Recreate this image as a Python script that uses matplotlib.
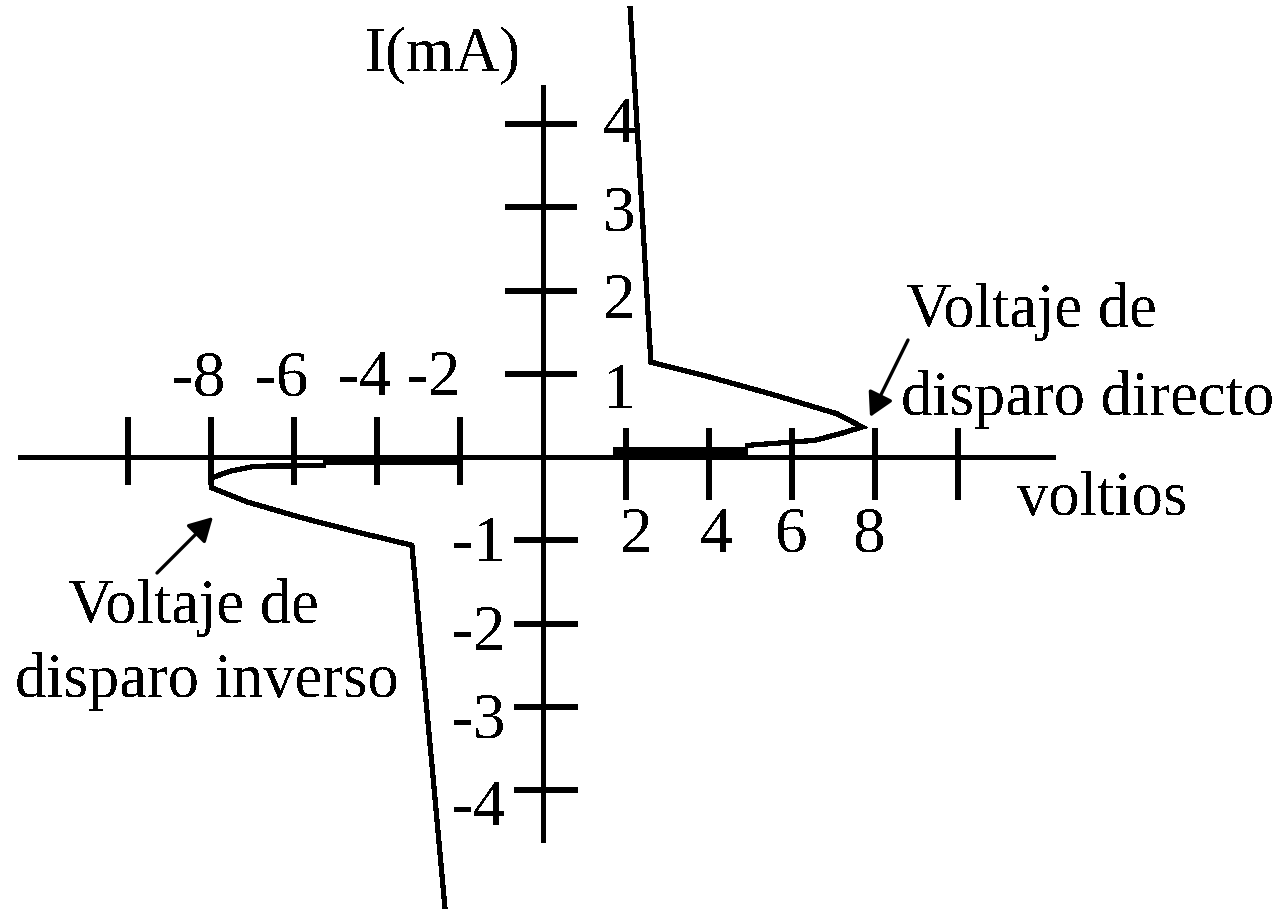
import matplotlib
matplotlib.use('Agg')
import matplotlib.pyplot as plt

# ---------------- data ----------------
x_tick_values = [-10, -8, -6, -4, -2, 2, 4, 6, 8, 10]
y_tick_values = [4, 3, 2, 1, -1, -2, -3, -4]

x_label_values_neg = [-8, -6, -4, -2]
x_label_text_neg = ['-8', '-6', '-4', '-2']
x_label_values_pos = [2, 4, 6, 8]
x_label_text_pos = ['2', '4', '6', '8']
y_label_values = [4, 3, 2, 1, -1, -2, -3, -4]
y_label_text = ['4', '3', '2', '1', '-1', '-2', '-3', '-4']

# forward branch (voltios, mA)
fwd_v = [2.10, 2.60, 4.02, 5.47, 7.08, 7.69, 7.23, 6.55, 4.94]
fwd_i = [5.39, 1.14, 0.96, 0.76, 0.52, 0.36, 0.29, 0.20, 0.14]
fwd_low_v = [1.69, 4.94]
fwd_low_i = [0.072, 0.072]

# reverse branch (voltios, mA)
rev_v = [-2.36, -3.16, -4.41, -5.81, -7.13, -7.98, -7.98, -7.54, -6.94, -5.30]
rev_i = [-5.43, -1.06, -0.91, -0.73, -0.54, -0.37, -0.25, -0.17, -0.11, -0.105]
rev_low_v = [-5.30, -2.00]
rev_low_i = [-0.048, -0.048]

# ---------------- layout ----------------
W, H = 1284, 909
OX, OY = 543.0, 457.0      # pixel position of origin
SX, SY = 41.5, 83.25       # pixels per volt / per mA


def px(x, y):
    """pixel (from top-left) -> data coordinates"""
    return (x - OX) / SX, (OY - y) / SY


def dx(p):
    return p / SX


def dy(p):
    return p / SY


plt.rcParams['text.antialiased'] = False
fig = plt.figure(figsize=(W / 100, H / 100), dpi=100)
fig.patch.set_facecolor('white')
ax = fig.add_axes([0, 0, 1, 1])
ax.set_xlim(-OX / SX, (W - OX) / SX)
ax.set_ylim((OY - H) / SY, OY / SY)
ax.axis('off')

K = 'black'
axis_lw = 3.6
tick_lw = 3.2
curve_lw = 3.0
aa = False

# axes
ax.plot([px(18, 0)[0], px(1055, 0)[0]], [0, 0], color=K, lw=axis_lw,
        solid_capstyle='butt', antialiased=aa)
ax.plot([0, 0], [px(0, 85)[1], px(0, 842)[1]], color=K, lw=axis_lw,
        solid_capstyle='butt', antialiased=aa)

# x ticks
for v in x_tick_values:
    if v < 0:
        top, bot = dy(40), -dy(28)
    else:
        top, bot = dy(29), -dy(43)
    ax.plot([v, v], [bot, top], color=K, lw=tick_lw, solid_capstyle='butt',
            antialiased=aa)
# y ticks
for i in y_tick_values:
    if i > 0:
        l, r = -dx(38), dx(34)
    else:
        l, r = -dx(29), dx(35)
    ax.plot([l, r], [i, i], color=K, lw=tick_lw, solid_capstyle='butt',
            antialiased=aa)

# curves
ax.plot(fwd_v, fwd_i, color=K, lw=curve_lw, antialiased=aa,
        solid_joinstyle='miter')
ax.plot(fwd_low_v, fwd_low_i, color=K, lw=4.6, solid_capstyle='butt',
        antialiased=aa)
ax.plot(rev_v, rev_i, color=K, lw=curve_lw, antialiased=aa,
        solid_joinstyle='miter')
ax.plot(rev_low_v, rev_low_i, color=K, lw=4.6, solid_capstyle='butt',
        antialiased=aa)

# fonts
fam = ['Liberation Serif', 'DejaVu Serif']
num_fs = 47
txt_fs = 45

# tick labels
neg_x_off = [-12, -12, -12, -26]
for v, t, o in zip(x_label_values_neg, x_label_text_neg, neg_x_off):
    ax.text(v + dx(o), px(0, 395)[1], t, ha='center', va='baseline',
            fontsize=num_fs, family=fam)
pos_x_off = [10, 7, 0, -5]
for v, t, o in zip(x_label_values_pos, x_label_text_pos, pos_x_off):
    ax.text(v + dx(o), px(0, 552)[1], t, ha='center', va='baseline',
            fontsize=num_fs, family=fam)
y_base_off = [18, 23, 28, 34, 21, 26, 31, 35]
for i, t, o in zip(y_label_values, y_label_text, y_base_off):
    xl = 603 if i > 0 else 452
    ax.text(px(xl, 0)[0], i - dy(o), t, ha='left', va='baseline',
            fontsize=num_fs, family=fam)

# labels
ax.text(*px(365, 70), 'I(mA)', ha='left', va='baseline', fontsize=txt_fs,
        family=fam)
ax.text(*px(1017, 515), 'voltios', ha='left', va='baseline', fontsize=txt_fs,
        family=fam)
ax.text(*px(906, 327), 'Voltaje de', ha='left', va='baseline',
        fontsize=txt_fs, family=fam)
ax.text(*px(901, 415), 'disparo directo', ha='left', va='baseline',
        fontsize=txt_fs, family=fam)
ax.text(*px(68, 623), 'Voltaje de', ha='left', va='baseline',
        fontsize=txt_fs, family=fam)
ax.text(*px(15, 697), 'disparo inverso', ha='left', va='baseline',
        fontsize=txt_fs, family=fam)

# arrows
aprops = dict(arrowstyle='-|>,head_length=0.9,head_width=0.5', color=K,
              lw=2.4, shrinkA=0, shrinkB=0, mutation_scale=16)
ax.annotate('', xy=px(870, 417), xytext=px(908, 340), arrowprops=aprops)
ax.annotate('', xy=px(213, 517), xytext=px(157, 573), arrowprops=aprops)

fig.savefig('out.png', dpi=100, facecolor='white')
